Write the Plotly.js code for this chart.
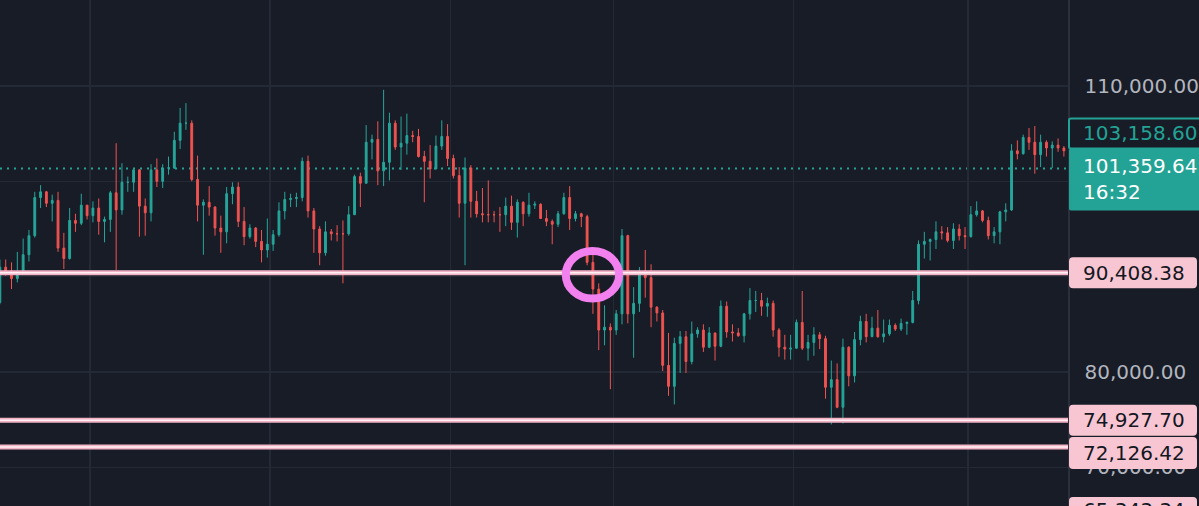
<!DOCTYPE html>
<html>
<head>
<meta charset="utf-8">
<script src="https://cdn.plot.ly/plotly-3.0.1.min.js"></script>
<style>
  html, body { margin: 0; padding: 0; background: #181c27; }
  #chart { width: 1199px; height: 506px; }
</style>
</head>
<body>
<div id="chart"></div>
<script>
// ---- Data: daily BTC/USD candles, 2024-11-15 .. 2025-05-17 ----
const startDate = '2024-11-15';

const opens = [
  // Nov 15-30
  87300, 91000, 90600, 89800, 90500, 92300, 94300, 98300, 98900, 97700, 98000, 93000, 91900, 95900, 95600, 97500,
  // Dec
  96400, 97200, 95800, 96000, 98800, 97000, 99900, 99900, 101200, 97400, 96700, 101200, 100000, 101400, 101400, 104300,
  106100, 106100, 100200, 97500, 97800, 97300, 95100, 94700, 98700, 99400, 95800, 94200, 95100, 93700, 92800,
  // Jan
  93400, 94400, 96900, 98100, 98200, 98300, 102100, 96900, 95000, 92500, 94700, 94500, 94500, 94500, 96500, 100500,
  99800, 104100, 104400, 101100, 102000, 106100, 103600, 104000, 104800, 104700, 102600, 102100, 101300, 103700, 104700,
  // Feb
  102400, 100600, 97700, 101400, 97900, 96600, 96500, 96500, 96500, 96500, 97400, 95700, 97800, 96600, 97500, 97600,
  96100, 95800, 95500, 96600, 98300, 96100, 96600, 96300, 91500, 88700, 84400, 84700,
  // Mar
  84400, 86100, 94300, 86100, 87200, 90600, 89900, 86800, 86200, 80700, 78500, 83000, 83700, 81100, 84000, 84400,
  82600, 84100, 82700, 86900, 84200, 84100, 83800, 86100, 87500, 87500, 86900, 87200, 84400, 82600, 82400,
  // Apr
  82500, 85200, 82500, 83100, 83900, 83500, 78400, 79200, 76300, 82600, 79600, 83400, 85300, 83700, 84600, 83700,
  84000, 84900, 84500, 85100, 85200, 87500, 93400, 93700, 93900, 94700, 94600, 93800, 95000, 94300,
  // May 1-17
  94200, 96500, 96900, 95900, 94300, 94700, 96800, 97000, 103200, 102900, 104600, 104100, 102800, 104100, 103500, 103800, 103500
];

const highs = [
  91800, 91800, 91500, 92600, 94000, 94900, 98900, 99600, 99000, 98600, 98900, 94600, 97200, 96600, 98700, 97500,
  97900, 98200, 96300, 99000, 104000, 101900, 100500, 101300, 101300, 98200, 101800, 102400, 101800, 102600, 105200, 107700,
  108200, 106400, 102700, 98100, 99500, 97400, 96400, 99400, 99900, 99900, 97300, 95500, 95200, 94900, 96100,
  94900, 97800, 98900, 98700, 98800, 102500, 102700, 97200, 95300, 95800, 95000, 95400, 95900, 97400, 100700, 100900,
  105900, 104900, 106300, 109600, 107200, 106400, 106800, 107100, 105300, 105500, 103200, 103800, 104800, 106400, 106000,
  102800, 101500, 102500, 101700, 99000, 99300, 100100, 96900, 97300, 98300, 98500, 98100, 97900, 98800, 97900, 97700,
  97000, 96000, 96900, 98800, 99500, 96900, 96700, 96500, 92500, 89300, 87000, 85100,
  86500, 95000, 94400, 88900, 91000, 92800, 91300, 86900, 86500, 84100, 83600, 84300, 84300, 85300, 84700, 85000,
  84700, 84100, 87500, 87400, 85000, 84600, 86200, 88800, 88500, 88300, 87800, 87500, 84600, 83900, 83900,
  85500, 88500, 83900, 84700, 84200, 83800, 81200, 80900, 83500, 82700, 84200, 85900, 86100, 85800, 86500, 85500,
  85500, 85100, 85600, 85300, 88500, 93800, 94700, 94000, 95800, 95300, 95200, 95600, 95500, 95200,
  97400, 97900, 97000, 96300, 95200, 96900, 97700, 103900, 104300, 104900, 105600, 105800, 104900, 104300, 104200, 104500, 103700
];

const lows = [
  87100, 90100, 88700, 89400, 90400, 91600, 94100, 97200, 97300, 95800, 92600, 90800, 91800, 94700, 95400, 96000,
  95700, 94400, 93600, 94700, 90700, 96500, 98900, 98900, 94200, 94300, 95800, 99400, 99300, 100700, 101300, 103400,
  105400, 100000, 95800, 92300, 96400, 94300, 92500, 93500, 97600, 95200, 93300, 94000, 93100, 91500, 92000,
  92700, 94200, 96000, 97300, 97300, 97900, 96200, 92500, 91200, 92200, 93800, 93700, 89300, 94300, 96500, 97300,
  99800, 102300, 99600, 99500, 100100, 103300, 101200, 102800, 104100, 102500, 97800, 100300, 101300, 103300, 101600,
  100300, 96200, 91200, 96200, 96200, 95700, 95700, 95700, 94700, 95300, 94900, 94100, 95300, 96300, 97100, 96100,
  95300, 93400, 95200, 96500, 94900, 95800, 95200, 91200, 86100, 82300, 82800, 78200,
  83900, 85000, 85100, 81500, 86300, 87800, 84700, 85300, 80100, 77500, 76600, 79900, 79900, 80800, 83600, 82100,
  82500, 81200, 82600, 83600, 83200, 83700, 83100, 85500, 86300, 85900, 85800, 83700, 81600, 81300, 81300,
  82400, 82300, 81200, 81700, 82400, 77200, 74500, 76200, 74600, 78500, 78900, 82800, 83100, 83700, 83600, 83100,
  83800, 84300, 84300, 83900, 85100, 87100, 91900, 91700, 92900, 93900, 93600, 92900, 93800, 92900,
  94100, 96300, 95700, 93900, 93500, 93400, 95800, 96900, 102300, 102800, 103300, 100800, 101500, 102600, 101400, 103100, 102600
];

const closes = [
  91000, 90600, 89800, 90500, 92300, 94300, 98300, 98900, 97700, 98000, 93000, 91900, 95900, 95600, 97500, 96400,
  97200, 95800, 96000, 98800, 97000, 99900, 99900, 101200, 97400, 96700, 101200, 100000, 101400, 101400, 104300, 106100,
  106100, 100200, 97500, 97800, 97300, 95100, 94700, 98700, 99400, 95800, 94200, 95100, 93700, 92800, 93400,
  94400, 96900, 98100, 98200, 98300, 102100, 96900, 95000, 92500, 94700, 94500, 94500, 94500, 96500, 100500, 99800,
  104100, 104400, 101100, 102000, 106100, 103600, 104000, 104800, 104700, 102600, 102100, 101300, 103700, 104700, 102400,
  100600, 97700, 101400, 97900, 96600, 96500, 96500, 96500, 96500, 97400, 95700, 97800, 96600, 97500, 97600, 96100,
  95800, 95500, 96600, 98300, 96100, 96600, 96300, 91500, 88700, 84400, 84700, 84400,
  86100, 94300, 86100, 87200, 90600, 89900, 86800, 86200, 80700, 78500, 83000, 83700, 81100, 84000, 84400, 82600,
  84100, 82700, 86900, 84200, 84100, 83800, 86100, 87500, 87500, 86900, 87200, 84400, 82600, 82400, 82500,
  85200, 82500, 83100, 83900, 83500, 78400, 79200, 76300, 82600, 79600, 83400, 85300, 83700, 84600, 83700, 84000,
  84900, 84500, 85100, 85200, 87500, 93400, 93700, 93900, 94700, 94600, 93800, 95000, 94300, 94200,
  96500, 96900, 95900, 94300, 94700, 96800, 97000, 103200, 102900, 104600, 104100, 102800, 104100, 103500, 103800, 103500, 103200
];

// Horizontal levels drawn on the chart
const levels = [90408.38, 74927.70, 72126.42];
const lastPrice = 101359.64;
const lastCountdown = '16:32';
const markPrice = 103158.60;
const lowerHiddenLabel = '65,343.34';

// Price-axis ticks (90,000 and 100,000 sit under the price boxes)
const tickVals = [70000, 80000, 90000, 100000, 110000];
const tickText = ['70,000.00', '80,000.00', '', '', '110,000.00'];

// ---- Build date list (one per candle) ----
const dates = [];
{
  const d0 = new Date(startDate + 'T00:00:00Z');
  for (let i = 0; i < closes.length; i++) {
    const d = new Date(d0.getTime() + i * 86400000);
    dates.push(d.toISOString().slice(0, 10));
  }
}

// ---- Geometry helpers (layout only) ----
const W = 1199, H = 506, PLOT_W = 1068;
const Y_RANGE = [65944, 119022];
const yp = v => (v - Y_RANGE[0]) / (Y_RANGE[1] - Y_RANGE[0]);
const xpx = px => px / PLOT_W;
const dy = px => px / H;
const fmt = v => v.toLocaleString('en-US', {minimumFractionDigits: 2, maximumFractionDigits: 2});

function rrect(x0, x1, yb, yt, r) {
  const rx = r / PLOT_W, ry = r / H;
  return `M ${x0 + rx},${yt} L ${x1 - rx},${yt} Q ${x1},${yt} ${x1},${yt - ry} L ${x1},${yb + ry} Q ${x1},${yb} ${x1 - rx},${yb} ` +
         `L ${x0 + rx},${yb} Q ${x0},${yb} ${x0},${yb + ry} L ${x0},${yt - ry} Q ${x0},${yt} ${x0 + rx},${yt} Z`;
}

const PINK = '#f8c6d2', PINK_LINE = '#f3b3c7', PINK_CORE = '#fff0f4';
const TEAL = '#22a395';
const FONT = 'DejaVu Sans';

const shapes = [];
const annotations = [];

// pink horizontal levels
levels.forEach(v => {
  shapes.push({type: 'line', xref: 'paper', yref: 'y', x0: 0, x1: 1, y0: v, y1: v,
    line: {color: PINK_LINE, width: 5}, layer: 'above'});
  shapes.push({type: 'line', xref: 'paper', yref: 'y', x0: 0, x1: 1, y0: v, y1: v,
    line: {color: PINK_CORE, width: 1.5}, layer: 'above'});
});

// dotted last-price line
shapes.push({type: 'line', xref: 'paper', yref: 'y', x0: 0, x1: 1, y0: lastPrice, y1: lastPrice,
  line: {color: TEAL, width: 2, dash: '2px,5px'}, layer: 'below'});

// hand-drawn circle marker
shapes.push({type: 'circle', xref: 'x', yref: 'y',
  x0: '2025-02-20 20:00', x1: '2025-03-02 00:00', y0: 87700, y1: 92700,
  line: {color: '#f380ef', width: 8}, layer: 'above'});

// price label boxes on the axis
const BX0 = xpx(1069), BX1 = xpx(1197), TX = xpx(1081);
function pinkLabel(v, centerShiftPx, halfPx) {
  const c = yp(v) + dy(centerShiftPx);
  shapes.push({type: 'path', xref: 'paper', yref: 'paper', path: rrect(BX0, BX1, c - dy(halfPx), c + dy(halfPx), 4),
    fillcolor: PINK, line: {width: 0}, layer: 'above'});
  annotations.push({xref: 'paper', yref: 'paper', x: TX, y: c, xanchor: 'left', yanchor: 'middle', showarrow: false,
    text: fmt(v), font: {family: FONT, size: 20, color: '#131722'}});
}
pinkLabel(levels[0], 0, 15.5);
pinkLabel(levels[1], 0, 15.5);
pinkLabel(levels[2], -6, 16);

// bottom (mostly hidden) label
{
  const topP = dy(506 - 497), botP = dy(506 - 530);
  shapes.push({type: 'path', xref: 'paper', yref: 'paper', path: rrect(BX0, BX1, botP, topP, 4),
    fillcolor: PINK, line: {width: 0}, layer: 'above'});
  annotations.push({xref: 'paper', yref: 'paper', x: TX, y: dy(506 - 510), xanchor: 'left', yanchor: 'middle', showarrow: false,
    text: lowerHiddenLabel, font: {family: FONT, size: 20, color: '#131722'}});
}

// last price (green) box
{
  const c = yp(lastPrice);
  shapes.push({type: 'path', xref: 'paper', yref: 'paper', path: rrect(BX0, xpx(1205), c - dy(42), c + dy(20), 2),
    fillcolor: TEAL, line: {width: 0}, layer: 'above'});
  annotations.push({xref: 'paper', yref: 'paper', x: TX, y: c + dy(2), xanchor: 'left', yanchor: 'middle', showarrow: false,
    text: fmt(lastPrice), font: {family: FONT, size: 20, color: '#ffffff'}});
  annotations.push({xref: 'paper', yref: 'paper', x: TX, y: c - dy(24), xanchor: 'left', yanchor: 'middle', showarrow: false,
    text: lastCountdown, font: {family: FONT, size: 20, color: '#ffffff'}});
  // outlined mark price box above it
  shapes.push({type: 'path', xref: 'paper', yref: 'paper', path: rrect(BX0, xpx(1205), c + dy(20), c + dy(50), 2),
    fillcolor: '#181c27', line: {color: TEAL, width: 2}, layer: 'above'});
  annotations.push({xref: 'paper', yref: 'paper', x: TX, y: c + dy(35), xanchor: 'left', yanchor: 'middle', showarrow: false,
    text: fmt(markPrice), font: {family: FONT, size: 20, color: TEAL}});
}

const trace = {
  type: 'candlestick',
  x: dates,
  open: opens, high: highs, low: lows, close: closes,
  xperiod: 86400000, xperiodalignment: 'middle',
  increasing: {line: {color: '#26a69a', width: 1}, fillcolor: '#26a69a'},
  decreasing: {line: {color: '#ef5350', width: 1}, fillcolor: '#ef5350'},
  whiskerwidth: 0,
  hoverinfo: 'skip'
};

const layout = {
  width: W, height: H,
  margin: {l: 0, r: W - PLOT_W, t: 0, b: 0, pad: 0},
  paper_bgcolor: '#181c27', plot_bgcolor: '#181c27',
  showlegend: false,
  boxgap: 0.55,
  xaxis: {
    type: 'date', range: ['2024-11-15 12:30', '2025-05-18 05:00'],
    rangeslider: {visible: false}, showticklabels: false,
    tick0: '2024-12-01', dtick: 'M1', ticks: '',
    showgrid: true, gridcolor: '#242936', gridwidth: 1.5, zeroline: false, showline: false
  },
  yaxis: {
    side: 'right', range: Y_RANGE, tickmode: 'array', tickvals: tickVals, ticktext: tickText,
    showgrid: true, gridcolor: '#242936', gridwidth: 1.5, zeroline: false,
    showline: true, linecolor: '#2b2f3b', linewidth: 1.5, ticks: '', ticklabelstandoff: 11,
    tickfont: {family: FONT, size: 20, color: '#b2b5be'}
  },
  shapes: shapes,
  annotations: annotations
};

Plotly.newPlot('chart', [trace], layout, {staticPlot: true, displayModeBar: false});
</script>
</body>
</html>
